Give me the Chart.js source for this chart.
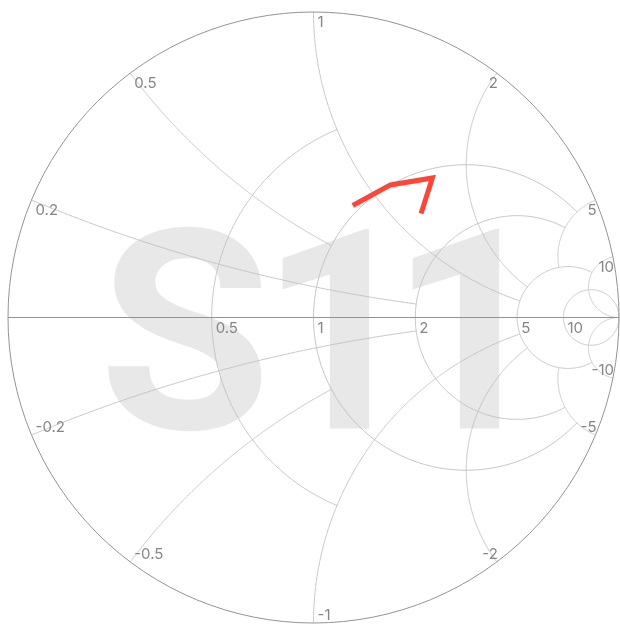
<!DOCTYPE html>
<html>
<head>
<meta charset="utf-8">
<script src="https://cdn.jsdelivr.net/npm/chart.js@4/dist/chart.umd.min.js"></script>
<style>
  html, body { margin: 0; padding: 0; background: #fff; }
  #wrap { width: 620px; height: 624px; }
</style>
</head>
<body>
<div id="wrap"><canvas id="chart"></canvas></div>
<script>
// Smith chart grid values
const rCircles = [0.5, 1, 2, 5, 10]
const rCircleXLimit = [1, 5, 5, 10, Infinity]
const xArcs = [0.2, 0.5, 1, 2, 5, 10]
const xArcRLimit = [2, 1, 5, 5, 5, Infinity]
const rTickLabels = ["0.5", "1", "2", "5", "10"]
const xTickLabels = ["0.2", "0.5", "1", "2", "5", "10"]

// S11 trace, normalized impedance (real / imaginary part)
const zReal = [0.95, 1.0, 1.1, 1.42]
const zImag = [0.82, 1.16, 1.57, 1.27]
const watermark = "S11"

// impedance z = r + jx  ->  reflection coefficient
function gamma(r, x) {
  const d = (r + 1) * (r + 1) + x * x
  return [(r * r + x * x - 1) / d, (2 * x) / d]
}

const smithGrid = {
  id: "smithGrid",
  beforeDatasetsDraw(chart) {
    const { ctx } = chart
    const sx = chart.scales.x
    const sy = chart.scales.y
    const px = (v) => sx.getPixelForValue(v)
    const py = (v) => sy.getPixelForValue(v)
    const cx = px(0)
    const cy = py(0)
    const R = px(1) - px(0)

    const curve = (pts) => {
      ctx.beginPath()
      pts.forEach(([gx, gy], i) => {
        if (i === 0) ctx.moveTo(px(gx), py(gy))
        else ctx.lineTo(px(gx), py(gy))
      })
      ctx.stroke()
    }
    const sample = (c0, c1, rho, a0, a1) => {
      const n = 300
      const pts = []
      for (let i = 0; i <= n; i++) {
        const t = a0 + (a1 - a0) * i / n
        pts.push([c0 + rho * Math.cos(t), c1 + rho * Math.sin(t)])
      }
      return pts
    }

    ctx.save()

    // big watermark behind the grid, glyph by glyph
    ctx.font = "bold 280px Roboto, 'Liberation Sans', sans-serif"
    ctx.fillStyle = "#e8e8e8"
    ctx.textAlign = "left"
    ctx.textBaseline = "alphabetic"
    const inkLeft = [-206, -32, 98]
    watermark.split("").forEach((ch, i) => {
      const m = ctx.measureText(ch)
      ctx.fillText(ch, cx + inkLeft[i] + m.actualBoundingBoxLeft, cy + 111)
    })

    // resistance circles
    ctx.strokeStyle = "#c4c4c4"
    ctx.lineWidth = 1
    rCircles.forEach((r, i) => {
      const c = r / (r + 1)
      const rho = 1 / (r + 1)
      const lim = rCircleXLimit[i]
      let a = 0
      if (lim !== Infinity) {
        const g = gamma(r, lim)
        a = Math.atan2(g[1], g[0] - c)
      }
      curve(sample(c, 0, rho, a, 2 * Math.PI - a))
    })

    // reactance arcs, from the outer circle inwards
    xArcs.forEach((xv, i) => {
      const lim = xArcRLimit[i]
      ;[xv, -xv].forEach((x) => {
        const c1 = 1 / x
        const rho = 1 / Math.abs(x)
        const g0 = gamma(0, x)
        const g1 = lim === Infinity ? [1, 0] : gamma(lim, x)
        const a0 = Math.atan2(g0[1] - c1, g0[0] - 1)
        let a1 = Math.atan2(g1[1] - c1, g1[0] - 1)
        if (x > 0 && a1 < a0) a1 += 2 * Math.PI
        if (x < 0 && a1 > a0) a1 -= 2 * Math.PI
        curve(sample(1, c1, rho, a0, a1))
      })
    })

    // outer circle and real axis
    ctx.strokeStyle = "#939393"
    ctx.beginPath()
    ctx.arc(cx, cy, R, 0, 2 * Math.PI)
    ctx.stroke()
    ctx.beginPath()
    ctx.moveTo(px(-1), cy)
    ctx.lineTo(px(1), cy)
    ctx.stroke()

    // labels
    ctx.font = "15px Inter, 'Liberation Sans', sans-serif"
    ctx.fillStyle = "#858585"
    rCircles.forEach((r, i) => {
      const g = gamma(r, 0)
      ctx.textAlign = "left"
      ctx.textBaseline = "top"
      ctx.fillText(rTickLabels[i], px(g[0]) + 4, py(g[1]) + 3)
    })
    xArcs.forEach((xv, i) => {
      ;[1, -1].forEach((s) => {
        const g = gamma(0, s * xv)
        const x0 = px(g[0])
        const y0 = py(g[1])
        ctx.textAlign = g[0] > 0.001 ? "right" : "left"
        const tx = g[0] > 0.001 ? x0 + 1 : x0 + 4
        if (s > 0) {
          ctx.textBaseline = "top"
          ctx.fillText(xTickLabels[i], tx, y0 + 3)
        } else {
          ctx.textBaseline = "alphabetic"
          ctx.fillText("-" + xTickLabels[i], tx, y0 - 3)
        }
      })
    })

    ctx.restore()
  }
}

const points = zReal.map((r, i) => {
  const g = gamma(r, zImag[i])
  return { x: g[0], y: g[1] }
})

new Chart(document.getElementById("chart"), {
  type: "scatter",
  data: {
    datasets: [{
      label: watermark,
      data: points,
      showLine: true,
      borderColor: "#ff4538",
      backgroundColor: "#ff4538",
      borderWidth: 5,
      pointRadius: 0,
      tension: 0
    }]
  },
  options: {
    responsive: true,
    maintainAspectRatio: false,
    animation: false,
    layout: { padding: { left: 8, right: 1, top: 12, bottom: 1 } },
    scales: {
      x: { type: "linear", min: -1, max: 1, display: false },
      y: { type: "linear", min: -1, max: 1, display: false }
    },
    plugins: {
      legend: { display: false },
      tooltip: { enabled: false }
    }
  },
  plugins: [smithGrid]
})
</script>
</body>
</html>
